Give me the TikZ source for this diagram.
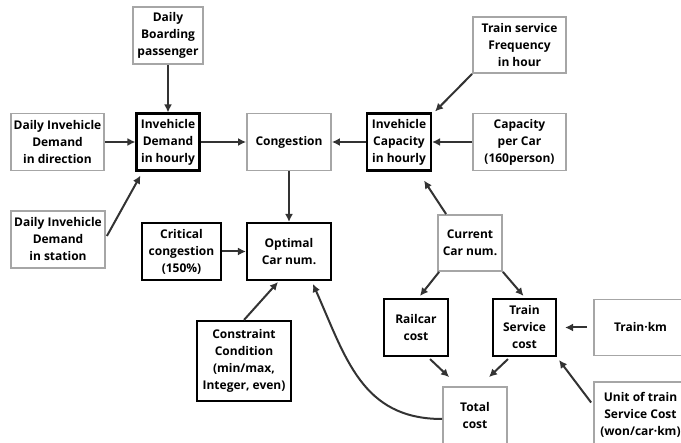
\documentclass[tikz,border=0pt]{standalone}
\usepackage{fontspec}
\setmainfont{Open Sans}
\usetikzlibrary{arrows.meta}

\begin{document}
\begin{tikzpicture}
  [x=1pt,y=-1pt,
   every node/.style={draw=black!35,line width=1.8pt,align=center,inner sep=1pt,
     minimum height=57pt,font=\bfseries\fontsize{12}{17}\selectfont},
   key/.style={draw=black,line width=2.1pt},
   arr/.style={draw=black!80,line width=2pt,-{Latex[length=8pt,width=8pt]}}]
  \useasboundingbox (0,0) rectangle (681,443);

  \node[minimum width=70pt] (board) at (168,35.5) {Daily\\Boarding\\passenger};
  \node[minimum width=93pt] (dir) at (57.5,142) {Daily Invehicle\\Demand\\in direction};
  \node[key,minimum width=63pt] (dem) at (168,142) {Invehicle\\Demand\\in hourly};
  \node[minimum width=84pt] (cong) at (289,142) {Congestion};
  \node[key,minimum width=64pt] (cap) at (399,142) {Invehicle\\Capacity\\in hourly};
  \node[minimum width=93pt] (percar) at (519.5,142) {Capacity\\per Car\\(160person)};
  \node[minimum width=93pt,minimum height=56pt] (freq) at (519.5,45) {Train service\\Frequency\\in hour};
  \node[minimum width=94pt] (stat) at (58,239.5) {Daily Invehicle\\Demand\\in station};
  \node[key,minimum width=79pt] (crit) at (181.5,251.5) {Critical\\congestion\\(150\%)};
  \node[key,minimum width=84pt] (opt) at (289,251.5) {Optimal\\Car num.};
  \node[key,minimum width=94pt,minimum height=80pt] (cons) at (244,361) {Constraint\\Condition\\(min/max,\\Integer, even)};
  \node[minimum width=64pt,minimum height=56pt] (cur) at (470,243) {Current\\Car num.};
  \node[key,minimum width=64pt] (rail) at (416,327.5) {Railcar\\cost};
  \node[key,minimum width=63pt] (tsc) at (524.5,327.5) {Train\\Service\\cost};
  \node[minimum width=93pt,minimum height=56pt] (tkm) at (640.5,327.5) {Train·km};
  \node[minimum width=64pt] (total) at (475,415.5) {Total\\cost};
  \node[minimum width=93pt,minimum height=65pt] (unit) at (640.5,414.5) {Unit of train\\Service Cost\\(won/car·km)};

  \foreach \from/\to in {board/dem,dir/dem,dem/cong,cap/cong,percar/cap,cong/opt,crit/opt}
    \draw[arr] (\from) -- (\to);

  \draw[arr] (freq.south west) -- ([xshift=3pt,yshift=1pt]cap.north east);
  \draw[arr] ([xshift=9pt]cur.north west) -- ([xshift=-8pt,yshift=-9pt]cap.south east);
  \draw[arr] ([xshift=1pt,yshift=3.5pt]stat.east) -- ([xshift=5pt,yshift=-4pt]dem.south west);
  \draw[arr] (cons.north) -- ([xshift=-11pt,yshift=-1pt]opt.south);
  \draw[arr] ([xshift=2pt]cur.south west) -- ([xshift=4pt,yshift=2pt]rail.north);
  \draw[arr] (cur.south east) -- ([xshift=-1pt,yshift=2pt]tsc.north);
  \draw[arr] ([xshift=-6pt]tkm.west) -- ([xshift=8pt]tsc.east);
  \draw[arr] ([xshift=14pt,yshift=-2pt]rail.south) -- ([xshift=7pt,yshift=9pt]total.north west);
  \draw[arr] ([xshift=-16.5pt,yshift=-2pt]tsc.south) -- ([xshift=14pt,yshift=9pt]total.north);
  \draw[arr] ([xshift=-2pt,yshift=12pt]unit.west) -- ([xshift=2pt,yshift=-3pt]tsc.south east);
  \draw[arr] ([yshift=-3.5pt]total.west) to[out=180,in=-66,looseness=1.1] ([xshift=24pt,yshift=-3pt]opt.south);

\end{tikzpicture}
\end{document}
